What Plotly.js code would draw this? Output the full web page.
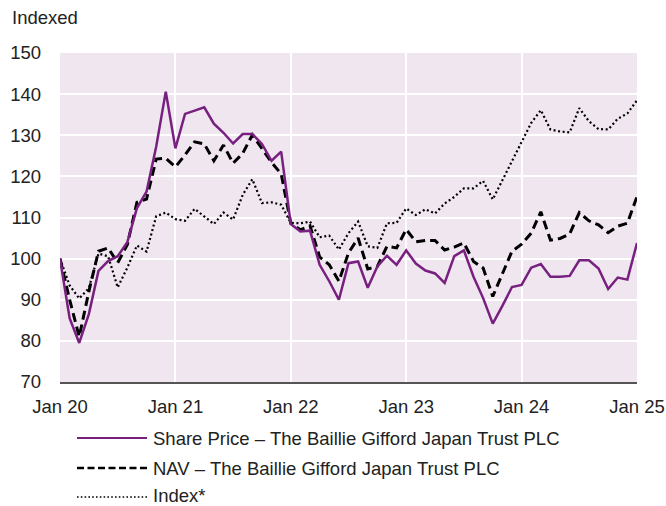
<!DOCTYPE html>
<html><head><meta charset="utf-8">
<script src="https://cdn.plot.ly/plotly-3.0.1.min.js"></script>
<style>html,body{margin:0;padding:0;background:#fff}#chart{width:666px;height:506px}</style>
</head><body><div id="chart"></div>
<script>
const tickLabels = ['Jan 20','Jan 21','Jan 22','Jan 23','Jan 24','Jan 25'];
const yTicks = [70, 80, 90, 100, 110, 120, 130, 140, 150];
const seriesNames = [
  'Share Price \u2013 The Baillie Gifford Japan Trust PLC',
  'NAV \u2013 The Baillie Gifford Japan Trust PLC',
  'Index*'
];
// monthly values, Jan 2020 .. Jan 2025
const sharePrice = [
  100, 85.5, 79.5, 86.5, 97, 99.4, 100.6, 104, 112.3, 116.3, 127.2, 140.6,
  126.8, 135.2, 136, 136.8, 132.8, 130.6, 128, 130.3, 130.3, 127.9, 123.8, 126,
  108.4, 106.6, 106.8, 98.5, 94.5, 90, 98.9, 99.3, 92.9, 98.1, 100.7, 98.5,
  102, 98.8, 97.1, 96.4, 94.1, 100.6, 102, 95.6, 90.4, 84.2, 88.5, 93.1,
  93.6, 97.8, 98.7, 95.6, 95.6, 95.8, 99.6, 99.6, 97.6, 92.6, 95.4, 94.9,
  103.8
];
const nav = [
  100, 90, 81, 92, 101.8, 102.6, 99, 103.4, 113.7, 114.5, 124.2, 124.4,
  122.3, 125.2, 128.4, 127.9, 123.8, 127.6, 123.2, 125.6, 130.1, 126.8, 123.4, 120.6,
  108.6, 107, 108, 100.4, 98.5, 94.5, 101.4, 105, 97.5, 98.1, 103, 102.6,
  107.1, 104.1, 104.4, 104.4, 102.1, 102.8, 103.8, 99.3, 97.7, 90.8, 96.1, 101.8,
  103.5, 106.2, 111.4, 104.5, 104.9, 106, 111.2, 109.2, 108.2, 106.3, 107.9, 108.6,
  115.1
];
const indexSeries = [
  100, 93.5, 90.3, 92.8, 101.2, 100.6, 93, 97.8, 103.2, 101.7, 110.3, 111.2,
  109.6, 109.2, 112.1, 110.2, 108.4, 111.2, 109.5, 115.5, 119.3, 113.5, 113.7, 113.1,
  108.7, 108.6, 109, 105.2, 105.6, 102.2, 106.2, 109, 103, 102.6, 108.6, 108.7,
  112.2, 110.6, 112, 111, 113.4, 115, 117.1, 117.1, 118.9, 114.4, 119, 123.8,
  128.5, 133, 136.1, 131.4, 130.9, 130.7, 136.6, 133.4, 131.5, 131.4, 134, 135.3,
  138.5
];

const months = sharePrice.map((_, i) => i);
const tickVals = tickLabels.map((_, i) => i * 12);

const PURPLE = '#78207f';
const TXT = '#222222';
const FONT = 'Liberation Sans, Arial, Helvetica, sans-serif';
const FS = 18.5;
const styles = [
  {color: PURPLE, width: 2.5, dash: 'solid'},
  {color: '#000000', width: 3, dash: '9px,5px'},
  {color: '#000000', width: 2.2, dash: '2px,2.6px'}
];
const legendStyles = [
  {color: PURPLE, width: 2.2, dash: 'solid'},
  {color: '#000000', width: 2.5, dash: '7px,3.5px'},
  {color: '#000000', width: 1.6, dash: '1.6px,2.2px'}
];
const seriesData = [sharePrice, nav, indexSeries];

const traces = seriesData.map((ys, k) => ({
  x: months, y: ys, type: 'scatter', mode: 'lines', name: seriesNames[k],
  line: {color: styles[k].color, width: styles[k].width, dash: styles[k].dash},
  showlegend: false, hoverinfo: 'skip'
})).reverse();

// pixel layout helpers
const W = 666, H = 506, L = 60, R = 29, T = 53, B = 124;
const pw = W - L - R, ph = H - T - B;
const px = x => (x - L) / pw;
const py = y => (H - B - y) / ph;

const legendY = [438, 468, 497];
const legendTextY = [438.5, 468.5, 495.5];
const shapes = legendY.map((y, k) => ({
  type: 'line', xref: 'paper', yref: 'paper',
  x0: px(77), x1: px(147), y0: py(y), y1: py(y),
  line: {color: legendStyles[k].color, width: legendStyles[k].width, dash: legendStyles[k].dash}
}));
const annotations = legendTextY.map((y, k) => ({
  xref: 'paper', yref: 'paper', x: px(153), y: py(y),
  xanchor: 'left', yanchor: 'middle', showarrow: false,
  borderpad: 0, borderwidth: 0,
  text: seriesNames[k], font: {family: FONT, size: FS, color: TXT}
}));
annotations.push({
  xref: 'paper', yref: 'paper', x: px(12), y: py(17),
  xanchor: 'left', yanchor: 'middle', showarrow: false,
  borderpad: 0, borderwidth: 0,
  text: 'Indexed', font: {family: FONT, size: FS, color: TXT}
});

const layout = {
  width: W, height: H,
  margin: {l: L, r: R, t: T, b: B, pad: 0},
  paper_bgcolor: '#ffffff', plot_bgcolor: '#f0e6f0',
  font: {family: FONT, size: FS, color: TXT},
  showlegend: false,
  xaxis: {
    range: [0, 60], tickmode: 'array', tickvals: tickVals, ticktext: tickLabels,
    showgrid: true, gridcolor: '#ffffff', gridwidth: 2, zeroline: false,
    showline: true, linecolor: '#555555', linewidth: 1.5,
    ticks: '', ticklabelstandoff: 7, tickfont: {family: FONT, size: FS, color: TXT},
    fixedrange: true
  },
  yaxis: {
    range: [70, 150], tickmode: 'array', tickvals: yTicks,
    showgrid: true, gridcolor: '#ffffff', gridwidth: 2, zeroline: false,
    showline: false, ticks: '', ticklabelstandoff: 18,
    tickfont: {family: FONT, size: FS, color: TXT}, fixedrange: true
  },
  shapes: shapes,
  annotations: annotations
};

Plotly.newPlot('chart', traces, layout, {displayModeBar: false, staticPlot: true});
</script>
</body></html>
